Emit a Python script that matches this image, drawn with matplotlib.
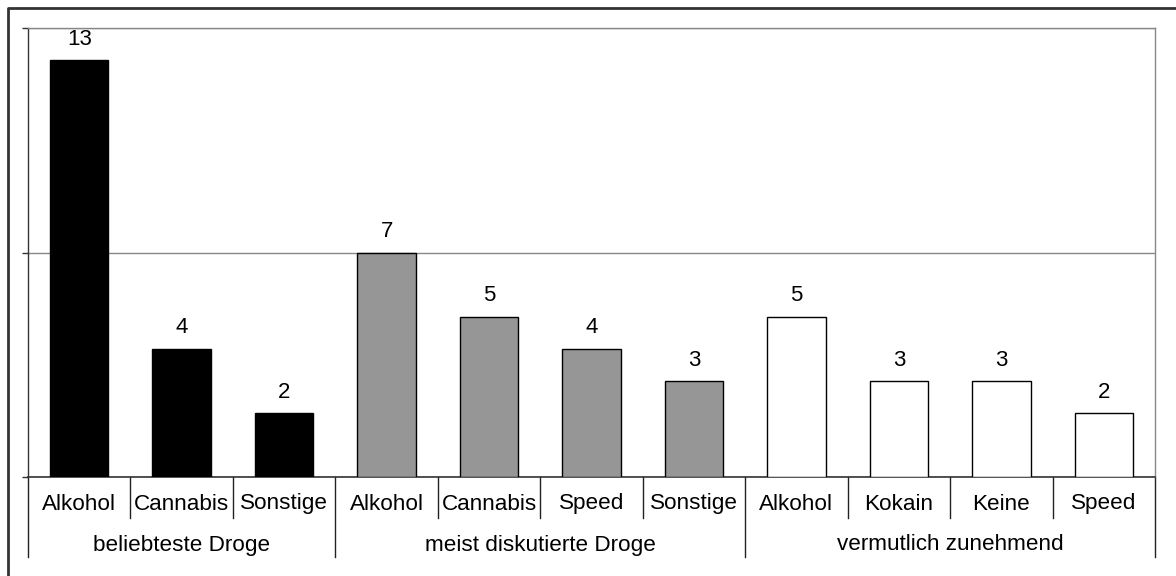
import numpy as np
import matplotlib.pyplot as plt
from matplotlib.lines import Line2D

plt.rcParams['font.family'] = ['Liberation Sans', 'DejaVu Sans']

# data
groups = ["beliebteste Droge", "meist diskutierte Droge", "vermutlich zunehmend"]
labels_1 = ["Alkohol", "Cannabis", "Sonstige"]
values_1 = [13, 4, 2]
labels_2 = ["Alkohol", "Cannabis", "Speed", "Sonstige"]
values_2 = [7, 5, 4, 3]
labels_3 = ["Alkohol", "Kokain", "Keine", "Speed"]
values_3 = [5, 3, 3, 2]
colors = ["#000000", "#969696", "#ffffff"]

W, H = 1176, 576
fig = plt.figure(figsize=(W / 100, H / 100), dpi=100)
ax = fig.add_axes([28 / W, 99 / H, 1127 / W, 449 / H])

all_labels = labels_1 + labels_2 + labels_3
all_values = values_1 + values_2 + values_3
sizes = [len(labels_1), len(labels_2), len(labels_3)]
bar_colors = []
for c, n in zip(colors, sizes):
    bar_colors += [c] * n

x = np.arange(len(all_values))
ax.bar(x, all_values, width=0.57, color=bar_colors, edgecolor="black", linewidth=1, zorder=3)
for xi, v in zip(x, all_values):
    ax.annotate(str(v), (xi, v), xytext=(0, 11), textcoords="offset points",
                ha="center", va="baseline", fontsize=16)

ax.set_xlim(-0.5, len(all_values) - 0.5)
ax.set_ylim(0, 14)
ax.set_yticks([0, 7, 14])
ax.set_yticklabels([])
ax.tick_params(axis="y", length=4.5, width=1, direction="out", color="#333333")
ax.set_xticks([])
ax.yaxis.grid(True, color="#888888", linewidth=1)
ax.set_axisbelow(True)
for s in ["top", "right"]:
    ax.spines[s].set_color("#888888")
    ax.spines[s].set_linewidth(1)
ax.spines["left"].set_color("#333333")
ax.spines["bottom"].set_color("#333333")
ax.spines["left"].set_linewidth(1)
ax.spines["bottom"].set_linewidth(1.2)

trans = ax.get_xaxis_transform()
short = -41 / 449
long_ = -80 / 449
# category labels and separators
bounds = np.cumsum([0] + sizes) - 0.5
for i, lab in enumerate(all_labels):
    ax.text(i, -27 / 449, lab, transform=trans, ha="center", va="center", fontsize=16.2)
for b in np.arange(-0.5, len(all_values)):
    bottom = long_ if b in bounds else short
    ax.add_line(Line2D([b, b], [0, bottom], transform=trans, color="#222222",
                       linewidth=1, clip_on=False))
# group labels
for g, lo, hi in zip(groups, bounds[:-1], bounds[1:]):
    ax.text((lo + hi) / 2, -68 / 449, g, transform=trans, ha="center", va="center", fontsize=16.2)

# outer frame (left and top edges visible)
fig.add_artist(Line2D([7.5 / W, 7.5 / W, 1.0], [0.0, 1 - 8 / H, 1 - 8 / H],
                      transform=fig.transFigure, color="#333333", linewidth=2))

fig.savefig("out.png", dpi=100)
